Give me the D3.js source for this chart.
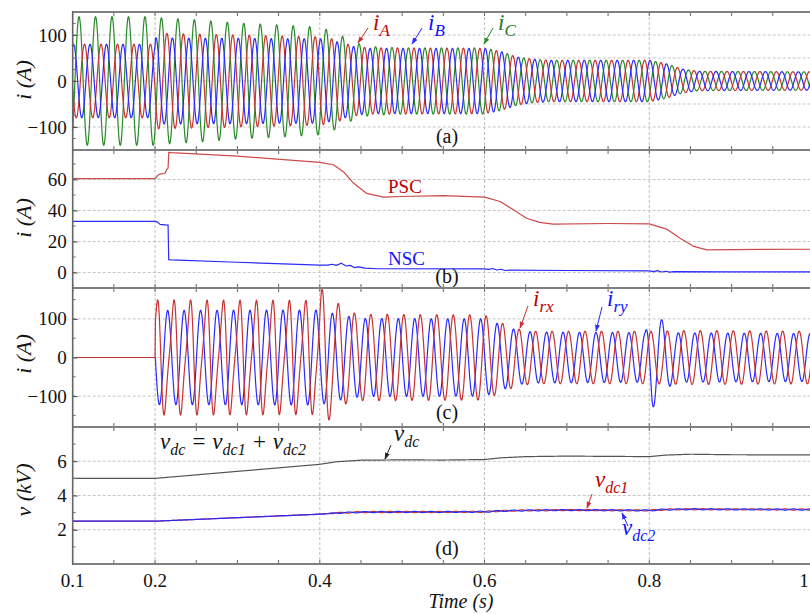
<!DOCTYPE html>
<html>
<head>
<meta charset="utf-8">
<script src="https://cdn.jsdelivr.net/npm/d3@7"></script>
<style>
  body { margin: 0; background: #fff; }
  svg { display: block; }
</style>
</head>
<body>
<div id="chart"></div>
<script>
// ---- data ----
const F = 50; // grid frequency, Hz

// (a) stator phase currents: peak envelopes (A) at knot times (s)
const tA    = [0.1, 0.2, 0.2005, 0.25, 0.3, 0.35, 0.4, 0.42, 0.44, 0.46, 0.5, 0.6, 0.62, 0.64, 0.66, 0.68, 0.8, 0.82, 0.84, 0.86, 1.0];
const ampIA = [80, 80, 104, 102, 100, 98, 96, 90, 76, 72, 72, 71, 64, 52, 47, 45, 45, 38, 26, 21, 20];
const ampIB = [80, 80, 94, 93, 93, 92, 92, 86, 75, 71, 71, 71, 64, 52, 47, 45, 45, 38, 26, 21, 20];
const ampIC = [140, 140, 138, 133, 126, 122, 117, 105, 85, 75, 72, 72, 64, 52, 47, 45, 45, 38, 26, 21, 20];
const phaseIA = -2.94, phaseIB = -5.04, phaseIC = -0.85;

// (b) positive / negative sequence current
const tPSC = [0.1, 0.2, 0.203, 0.206, 0.212, 0.214, 0.2158, 0.2166, 0.22, 0.3, 0.4, 0.4165, 0.4286, 0.4408, 0.457, 0.477, 0.5, 0.55, 0.6, 0.619, 0.635, 0.651, 0.667, 0.683, 0.75, 0.8, 0.821, 0.837, 0.854, 0.87, 0.9, 1.0];
const psc  = [60.5, 60.5, 62.5, 63.5, 64, 66.3, 67.3, 77.5, 77.3, 75, 71, 69.5, 65, 57.7, 51, 48.6, 49, 49.6, 48.6, 45.8, 40.4, 35, 32.3, 31.2, 31.6, 31.4, 28, 22.2, 16.8, 14.6, 14.8, 15];
const tNSC = [0.1, 0.2, 0.203, 0.206, 0.215, 0.2158, 0.2166, 0.22, 0.3, 0.4, 0.41, 0.415, 0.42, 0.426, 0.432, 0.437, 0.442, 0.447, 0.455, 0.47, 0.6, 0.605, 0.61, 0.615, 0.62, 0.625, 0.63, 0.7, 0.8, 0.805, 0.81, 0.815, 0.82, 0.825, 0.83, 0.9, 1.0];
const nsc  = [33, 33, 32.5, 31, 30.6, 30.5, 8.3, 8.1, 6.6, 4.8, 4.8, 5.3, 4.6, 6.0, 4.2, 4.6, 3.2, 3.6, 2.8, 2.4, 2.3, 2.0, 2.6, 1.6, 2.1, 1.3, 1.5, 1.3, 1.1, 0.6, 1.2, 0.3, 0.8, 0.2, 0.5, 0.4, 0.4];

// (c) rotor currents: peak envelopes
const tRx     = [0.1, 0.2, 0.2001, 0.3, 0.395, 0.401, 0.41, 0.42, 0.43, 0.45, 0.6, 0.62, 0.64, 0.66, 0.8, 0.85, 1.0];
const ampIrx  = [0, 0, 137, 137, 137, 172, 158, 144, 120, 112, 110, 90, 74, 68, 68, 70, 68];
const tHarm   = [0.1, 0.2, 0.2001, 0.4, 0.44, 1.0];
const harmIrx = [0, 0, 32, 30, 0, 0];
const tRy     = [0.1, 0.2, 0.2001, 0.4, 0.42, 0.45, 0.6, 0.62, 0.64, 0.66, 0.795, 0.803, 0.81, 0.82, 0.83, 1.0];
const ampIry  = [0, 0, 122, 123, 112, 101, 100, 85, 70, 66, 64, 135, 112, 85, 64, 62];
const phaseIrx = 0.94, phaseIry = -3.24;

// (d) dc-link voltages (kV)
const tV     = [0.1, 0.2, 0.4, 0.42, 0.45, 0.5, 0.55, 0.6, 0.62, 0.65, 0.7, 0.8, 0.82, 0.85, 0.9, 1.0];
const vdc    = [5.0, 5.0, 5.82, 5.97, 6.06, 6.08, 6.07, 6.1, 6.2, 6.27, 6.3, 6.27, 6.36, 6.41, 6.38, 6.37];
const vdc1   = [2.5, 2.5, 2.91, 2.98, 3.03, 3.04, 3.04, 3.05, 3.1, 3.13, 3.15, 3.13, 3.18, 3.2, 3.19, 3.18];
const vdc2   = [2.5, 2.5, 2.91, 2.98, 3.03, 3.04, 3.04, 3.05, 3.1, 3.13, 3.15, 3.13, 3.18, 3.2, 3.19, 3.18];
const ripple = [0, 0, 0.01, 0.03, 0.035, 0.035, 0.035, 0.035, 0.035, 0.035, 0.035, 0.035, 0.035, 0.035, 0.035, 0.035];

const xTicks = [0.1, 0.2, 0.4, 0.6, 0.8, 1.0];
const xGrid = [0.2, 0.4, 0.6, 0.8];

// ---- layout ----
const W = 810, H = 614, X0 = 72.7;
const RED = "#c83232", BLUE = "#2a2aff", GREEN = "#2a8a2a", GREY = "#555";
const SERIF = "'Liberation Serif', 'DejaVu Serif', serif";

const x = d3.scaleLinear().domain([0.1, 1.0]).range([X0, 814]);

const panels = [
  {id: "a", top: 12,  bottom: 150, dom: [-150, 150], ticks: [-100, 0, 100], grid: [-100, -50, 0, 50, 100], minor: d3.range(-150, 151, 25), label: "i (A)", labelY: 80, tag: "(a)", tagY: 143},
  {id: "b", top: 150, bottom: 288, dom: [-10, 79],   ticks: [0, 20, 40, 60], grid: [0, 20, 40, 60], minor: d3.range(-10, 80, 10), label: "i (A)", labelY: 218, tag: "(b)", tagY: 283},
  {id: "c", top: 288, bottom: 427, dom: [-180, 180], ticks: [-100, 0, 100], grid: [-100, 0, 100], minor: d3.range(-150, 151, 50), label: "i (A)", labelY: 354, tag: "(c)", tagY: 419},
  {id: "d", top: 427, bottom: 564, dom: [0, 8],      ticks: [2, 4, 6], grid: [2, 4, 6], minor: d3.range(1, 8, 1), label: "v (kV)", labelY: 490, tag: "(d)", tagY: 555}
];
panels.forEach(p => { p.y = d3.scaleLinear().domain(p.dom).range([p.bottom, p.top]); });
const P = {};
panels.forEach(p => { P[p.id] = p; });

const svg = d3.select("#chart").append("svg")
  .attr("width", W).attr("height", H)
  .style("font-family", SERIF);
const defs = svg.append("defs");

function marker(id, color) {
  defs.append("marker").attr("id", id)
    .attr("viewBox", "0 0 10 10").attr("refX", 9).attr("refY", 5)
    .attr("markerWidth", 7).attr("markerHeight", 7).attr("orient", "auto")
    .append("path").attr("d", "M0,1.5L10,5L0,8.5z").attr("fill", color);
}
marker("arR", RED); marker("arB", BLUE); marker("arG", GREEN); marker("arK", "#222");

// grids and clip areas
panels.forEach(p => {
  defs.append("clipPath").attr("id", "clip" + p.id)
    .append("rect").attr("x", X0).attr("y", p.top).attr("width", W - X0).attr("height", p.bottom - p.top);
  const g = svg.append("g");
  g.selectAll(null).data(p.grid).join("line")
    .attr("x1", X0).attr("x2", W).attr("y1", d => p.y(d)).attr("y2", d => p.y(d))
    .attr("stroke", "#c6c6c6").attr("stroke-dasharray", "3,2");
  g.selectAll(null).data(xGrid).join("line")
    .attr("x1", d => x(d)).attr("x2", d => x(d)).attr("y1", p.top).attr("y2", p.bottom)
    .attr("stroke", "#bdbdbd").attr("stroke-dasharray", "3,2");
});

// ---- sampled waveforms ----
const ts = d3.range(0.1, 1.00001, 0.0004);
const w = 2 * Math.PI * F;

function env(knots, vals) { return d3.scaleLinear().domain(knots).range(vals).clamp(true); }

function drawLine(p, pts, color, width) {
  const line = d3.line().x(d => x(d[0])).y(d => p.y(d[1]));
  svg.append("path").datum(pts)
    .attr("clip-path", `url(#clip${p.id})`)
    .attr("d", line).attr("fill", "none")
    .attr("stroke", color).attr("stroke-width", width || 1.2)
    .attr("stroke-linejoin", "round");
}

// (a)
const eA = env(tA, ampIA), eB = env(tA, ampIB), eC = env(tA, ampIC);
drawLine(P.a, ts.map(t => [t, eC(t) * Math.sin(w * t + phaseIC)]), GREEN);
drawLine(P.a, ts.map(t => [t, eA(t) * Math.sin(w * t + phaseIA)]), RED);
drawLine(P.a, ts.map(t => [t, eB(t) * Math.sin(w * t + phaseIB)]), BLUE);

// (b)
drawLine(P.b, tPSC.map((t, i) => [t, psc[i]]), "#cc4a4a");
drawLine(P.b, tNSC.map((t, i) => [t, nsc[i]]), BLUE);

// (c)
const eRx = env(tRx, ampIrx), hRx = env(tHarm, harmIrx), eRy = env(tRy, ampIry);
drawLine(P.c, ts.map(t => [t, eRy(t) * Math.sin(w * t + phaseIry)]), BLUE);
drawLine(P.c, ts.map(t => [t, eRx(t) * Math.sin(w * t + phaseIrx) - hRx(t) * Math.sin(2 * (w * t + phaseIrx))]), RED);

// (d)
const eV = env(tV, vdc), eV1 = env(tV, vdc1), eV2 = env(tV, vdc2), eR = env(tV, ripple);
drawLine(P.d, ts.map(t => [t, eV(t)]), GREY);
drawLine(P.d, ts.map(t => [t, eV1(t) + eR(t) * Math.sin(w * t)]), RED);
drawLine(P.d, ts.map(t => [t, eV2(t) - eR(t) * Math.sin(w * t)]), BLUE);

// ---- frames, ticks, labels ----
const minorX = d3.range(0.1, 1.001, 0.05);
panels.forEach(p => {
  const g = svg.append("g");
  // minor x ticks (inward) on top and bottom edges
  g.selectAll(null).data(minorX).join("line")
    .attr("x1", d => x(d)).attr("x2", d => x(d)).attr("y1", p.top).attr("y2", p.top + 4)
    .attr("stroke", "#666");
  g.selectAll(null).data(minorX).join("line")
    .attr("x1", d => x(d)).attr("x2", d => x(d)).attr("y1", p.bottom).attr("y2", p.bottom - 4)
    .attr("stroke", "#666");
  // minor y ticks
  g.selectAll(null).data(p.minor.filter(v => v > p.dom[0] && v < p.dom[1])).join("line")
    .attr("x1", X0).attr("x2", X0 + 3).attr("y1", d => p.y(d)).attr("y2", d => p.y(d))
    .attr("stroke", "#777");
  // major y axis
  const ax = d3.axisLeft(p.y).tickValues(p.ticks).tickSize(-5).tickPadding(6).tickFormat(d3.format("d"));
  g.append("g").attr("transform", `translate(${X0},0)`).call(ax)
    .call(s => s.select(".domain").remove())
    .call(s => s.selectAll("line").attr("stroke", "#555"))
    .call(s => s.selectAll("text").attr("font-size", 19).attr("font-family", SERIF).attr("fill", "#111"));
  // y label
  g.append("text")
    .attr("transform", `translate(31,${p.labelY}) rotate(-90)`)
    .attr("text-anchor", "middle").attr("font-size", 22).attr("font-style", "italic").attr("fill", "#111")
    .text(p.label);
  // panel tag
  g.append("text").attr("x", 447).attr("y", p.tagY).attr("text-anchor", "middle")
    .attr("font-size", 20).attr("fill", "#111").text(p.tag);
});

// frame lines
const edges = [12, 150, 288, 427, 564];
svg.selectAll(null).data(edges).join("line")
  .attr("x1", X0).attr("x2", W).attr("y1", d => d).attr("y2", d => d)
  .attr("stroke", "#808080").attr("stroke-width", 2.2);
svg.append("line").attr("x1", X0).attr("x2", X0).attr("y1", 11).attr("y2", 565)
  .attr("stroke", "#666").attr("stroke-width", 1.6);

// x tick labels (the last one sits at the right edge of the picture)
svg.append("g").selectAll(null).data(xTicks).join("text")
  .attr("x", d => Math.min(x(d), 804)).attr("y", 587).attr("text-anchor", "middle")
  .attr("font-size", 19).attr("fill", "#111")
  .text(d => d === 1 ? "1" : d3.format(".1f")(d));
svg.append("text").attr("x", 461).attr("y", 608).attr("text-anchor", "middle")
  .attr("font-size", 20).attr("font-style", "italic").attr("fill", "#111").text("Time (s)");

// ---- annotations ----
function subLabel(xp, yp, main, sub, color, size, subSize) {
  const t = svg.append("text").attr("x", xp).attr("y", yp)
    .attr("font-style", "italic").attr("fill", color).attr("font-size", size);
  t.append("tspan").text(main);
  t.append("tspan").attr("dy", size * 0.28).attr("font-size", subSize).text(sub);
  return t;
}
function arrow(x1, y1, x2, y2, color, id) {
  svg.append("line").attr("x1", x1).attr("y1", y1).attr("x2", x2).attr("y2", y2)
    .attr("stroke", color).attr("stroke-width", 1).attr("marker-end", `url(#${id})`);
}

subLabel(373, 30, "i", "A", "#c00000", 23, 17);
arrow(368, 28, 358, 43, RED, "arR");
subLabel(428, 30, "i", "B", "#1010ff", 23, 17);
arrow(422, 28, 412, 44, BLUE, "arB");
subLabel(498, 30, "i", "C", "#1f7a1f", 23, 17);
arrow(493, 28, 484, 44, GREEN, "arG");

svg.append("text").attr("x", 388).attr("y", 193).attr("font-size", 19).attr("fill", "#c00000").text("PSC");
svg.append("text").attr("x", 388).attr("y", 265).attr("font-size", 19).attr("fill", "#1010ff").text("NSC");

subLabel(533, 306, "i", "rx", "#c00000", 23, 17);
arrow(528, 306, 520, 328, RED, "arR");
subLabel(607, 306, "i", "ry", "#1010ff", 23, 17);
arrow(602, 307, 596, 331, BLUE, "arB");

// formula
const f = svg.append("text").attr("x", 160).attr("y", 449).attr("font-size", 23).attr("font-style", "italic").attr("fill", "#111");
[["v", "dc"], [" = v", "dc1"], [" + v", "dc2"]].forEach((pair, i) => {
  f.append("tspan").attr("dy", i === 0 ? 0 : -6).text(pair[0]);
  f.append("tspan").attr("dy", 6).attr("font-size", 16).text(pair[1]);
});
subLabel(394, 441, "v", "dc", "#111", 23, 16);
arrow(391, 445, 385, 459, "#222", "arK");
subLabel(595, 487, "v", "dc1", "#c00000", 23, 16);
arrow(592, 494, 587, 508, RED, "arR");
subLabel(622, 535, "v", "dc2", "#1010ff", 23, 16);
arrow(628, 526, 622, 513, BLUE, "arB");
</script>
</body>
</html>
